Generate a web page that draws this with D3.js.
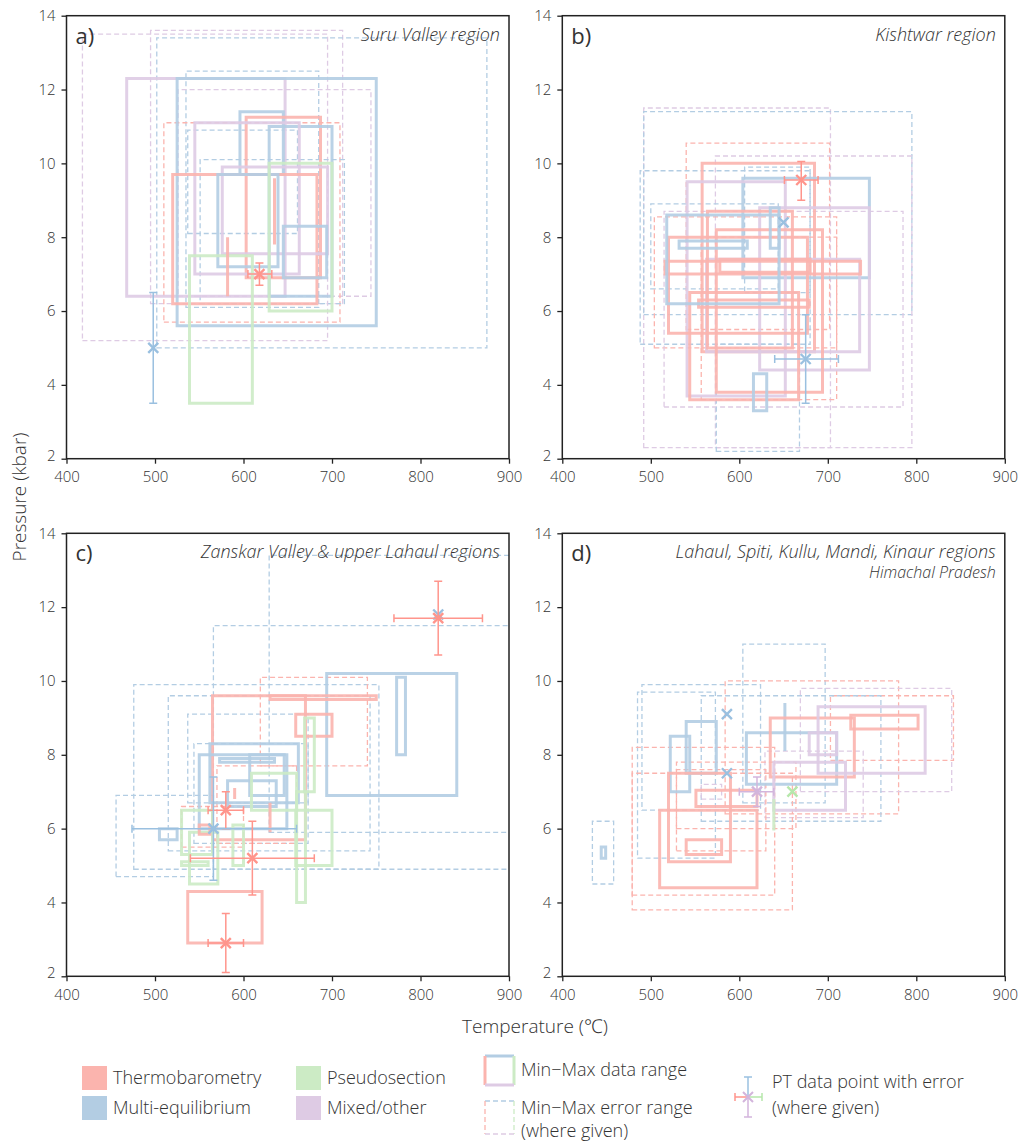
<!DOCTYPE html>
<html>
<head>
<meta charset="utf-8">
<script src="https://cdn.jsdelivr.net/npm/d3@7"></script>
<style>
  body { margin: 0; background: #fff; }
  text { font-family: "Open Sans", "Noto Sans", sans-serif; font-weight: 300; fill: #333; }
</style>
</head>
<body>
<script>
// method codes: T = thermobarometry, E = multi-equilibrium, P = pseudosection, X = mixed/other
const methodKeys = ["T", "E", "P", "X"];
const methodNames = ["Thermobarometry", "Multi-equilibrium", "Pseudosection", "Mixed/other"];
const tempTicks = [400, 500, 600, 700, 800, 900];
const presTicks = [2, 4, 6, 8, 10, 12, 14];
const panelLetters = ["a)", "b)", "c)", "d)"];
const panelTitles = [
  "Suru Valley region",
  "Kishtwar region",
  "Zanskar Valley & upper Lahaul regions",
  "Lahaul, Spiti, Kullu, Mandi, Kinaur regions",
];
const panelSubtitles = ["", "", "", "Himachal Pradesh"];

// min-max data ranges: [method, Tmin, Tmax, Pmin, Pmax]
const rangesA = [
  ["X", 468, 647, 6.4, 12.3], ["E", 525, 750, 5.6, 12.3], ["E", 596, 645, 9.7, 11.4],
  ["T", 603, 687, 6.9, 11.25], ["E", 629, 700, 6.4, 11.0], ["X", 545, 663, 7.0, 11.1],
  ["T", 520, 683, 6.2, 9.7], ["X", 576, 695, 7.55, 9.9], ["E", 571, 639, 7.2, 9.7],
  ["P", 629, 700, 6.0, 10.0], ["P", 539, 610, 3.5, 7.5], ["E", 645, 694, 6.9, 8.3],
  ["T", 582, 582, 6.4, 8.0], ["T", 635, 635, 7.8, 9.6],
];
const rangesB = [
  ["T", 558, 685, 4.9, 10.0], ["E", 604, 747, 6.9, 9.6], ["X", 541, 652, 3.7, 9.5],
  ["X", 623, 747, 4.4, 8.8], ["X", 563, 736, 4.9, 7.4], ["T", 564, 660, 5.0, 8.7],
  ["T", 574, 694, 3.8, 8.2], ["T", 544, 667, 3.6, 6.5], ["T", 520, 677, 5.4, 8.0],
  ["T", 516, 737, 7.0, 7.35], ["T", 578, 680, 7.05, 7.4], ["T", 554, 679, 6.1, 6.3],
  ["E", 518, 645, 6.2, 8.6], ["E", 532, 609, 7.7, 7.9], ["E", 635, 645, 7.7, 8.8],
  ["E", 616, 631, 3.3, 4.3],
];
const rangesC = [
  ["E", 694, 841, 6.9, 10.2], ["E", 773, 783, 8.0, 10.1], ["T", 565, 670, 5.7, 9.6],
  ["T", 630, 750, 9.5, 9.6], ["T", 659, 700, 8.5, 9.1], ["P", 669, 680, 7.0, 9.0],
  ["E", 562, 662, 6.7, 8.3], ["E", 550, 649, 6.0, 8.0], ["E", 573, 635, 7.8, 7.9],
  ["E", 607, 646, 6.9, 8.0], ["E", 582, 637, 6.6, 7.3], ["P", 609, 660, 6.5, 7.5],
  ["P", 659, 700, 5.0, 6.5], ["P", 660, 670, 4.0, 7.0], ["P", 530, 565, 5.3, 6.5],
  ["P", 539, 571, 4.5, 5.9], ["P", 588, 600, 5.0, 6.1], ["P", 530, 560, 5.0, 5.1],
  ["T", 537, 621, 2.9, 4.3], ["T", 550, 562, 5.85, 6.1], ["T", 590, 590, 6.8, 7.1],
  ["T", 630, 630, 5.9, 6.7], ["E", 505, 525, 5.7, 6.0],
];
const rangesD = [
  ["E", 444, 449, 5.2, 5.5], ["E", 522, 544, 7.0, 8.5], ["E", 540, 574, 7.5, 8.9],
  ["E", 608, 710, 7.2, 8.6], ["E", 651.5, 651.5, 8.1, 9.4], ["T", 635, 730, 7.4, 9.0],
  ["T", 726, 802, 8.7, 9.07], ["X", 689, 810, 7.5, 9.3], ["X", 679, 710, 8.0, 8.6],
  ["X", 639, 720, 6.5, 7.8], ["T", 520, 590, 5.1, 7.5], ["T", 551, 620, 6.6, 7.04],
  ["T", 510, 620, 4.4, 6.5], ["T", 540, 580, 5.3, 5.7], ["P", 639, 639, 5.95, 6.8],
];

// min-max error ranges: [method, Tmin, Tmax, Pmin, Pmax]
const errorsA = [
  ["X", 418, 695, 5.2, 13.5], ["X", 495, 712, 6.2, 13.6], ["E", 502, 875, 5.0, 13.4],
  ["E", 535, 685, 6.1, 12.5], ["X", 526, 744, 6.4, 12.0], ["T", 510, 709, 5.7, 11.1],
  ["E", 537, 661, 8.1, 10.9], ["E", 551, 714, 6.2, 10.1],
];
const errorsB = [
  ["X", 492, 703, 2.3, 11.5], ["E", 492, 795, 5.9, 11.4], ["T", 540, 702, 5.5, 10.55],
  ["X", 573, 795, 2.3, 10.2], ["E", 488, 680, 5.1, 9.8], ["E", 606, 680, 6.5, 9.9],
  ["E", 500, 644, 6.6, 8.9], ["T", 504, 710, 5.0, 8.55], ["X", 515, 785, 3.4, 8.7],
  ["T", 557, 710, 3.6, 8.0], ["E", 574, 668, 2.2, 5.1],
];
const errorsC = [
  ["E", 629, 920, 5.9, 13.4], ["E", 566, 920, 4.9, 11.5], ["E", 476, 753, 4.9, 9.9],
  ["E", 515, 743, 5.4, 9.6], ["E", 537, 673, 6.7, 9.1], ["E", 544, 673, 5.6, 8.3],
  ["E", 456, 566, 4.7, 6.9], ["T", 619, 740, 7.7, 10.1], ["T", 570, 660, 5.6, 7.7],
  ["T", 530, 600, 5.5, 6.6],
];
const errorsD = [
  ["E", 604, 697, 6.7, 11.0], ["T", 584, 780, 6.4, 10.0], ["X", 669, 840, 7.0, 9.8],
  ["T", 703, 842, 7.85, 9.6], ["E", 490, 624, 6.5, 9.9], ["E", 485, 573, 5.2, 9.7],
  ["E", 557, 760, 6.2, 9.6], ["X", 629, 740, 6.3, 8.1], ["T", 479, 640, 4.2, 8.2],
  ["T", 479, 660, 3.8, 7.5], ["T", 529, 664, 6.0, 7.8], ["T", 529, 630, 5.4, 7.6],
  ["E", 434, 458, 4.5, 6.2], ["X", 557, 580, 6.8, 7.2],
];

// PT points: [method, T, P, Tlo, Thi, Plo, Phi]
const pointsA = [
  ["E", 498, 5.0, null, null, 3.5, 6.5],
  ["T", 618, 7.0, 605, 632, 6.7, 7.3],
];
const pointsB = [
  ["T", 670, 9.55, 651, 689, 9.0, 10.05],
  ["E", 650, 8.4, null, null, null, null],
  ["E", 675, 4.7, 640, 712, 3.5, 5.9],
];
const pointsC = [
  ["E", 820, 11.8, null, null, null, null],
  ["T", 820, 11.7, 770, 870, 10.7, 12.7],
  ["T", 580, 6.5, 560, 600, 6.0, 7.0],
  ["E", 566, 6.0, 474, 660, 4.6, 7.4],
  ["T", 610, 5.2, 540, 680, 4.2, 6.2],
  ["T", 580, 2.9, 560, 600, 2.1, 3.7],
];
const pointsD = [
  ["E", 586, 9.1, null, null, null, null],
  ["E", 586, 7.5, null, null, null, null],
  ["X", 620, 7.0, 600, 639, 6.6, 7.4],
  ["P", 660, 7.0, null, null, null, null],
];

let allRanges = [rangesA, rangesB, rangesC, rangesD];
let allErrors = [errorsA, errorsB, errorsC, errorsD];
let allPoints = [pointsA, pointsB, pointsC, pointsD];

let width = 1024;
let height = 1142;
let pw = 442.5;
let ph = 443;
let origins = [[66.5, 15.7], [562.3, 15.7], [66.5, 533.3], [562.3, 533.3]];

let svg = d3.select("body").append("svg").attr("width", width).attr("height", height);

let x = d3.scaleLinear().domain([400, 900]).range([0, pw]);
let y = d3.scaleLinear().domain([2, 14]).range([ph, 0]);
let color = d3.scaleOrdinal().domain(methodKeys).range(d3.schemePastel1.slice(0, 4));

// slightly stronger tone for point markers
let pointColor = (k) => {
  let c = d3.hsl(color(k));
  c.s = Math.min(1, c.s * 1.15);
  c.l = c.l * 0.93;
  return c.formatHex();
};

let boxPath = (d) =>
  `M${x(d[1])},${y(d[3])}H${x(d[2])}V${y(d[4])}H${x(d[1])}Z`;

let defs = svg.append("defs");

origins.forEach((o, i) => {
  defs.append("clipPath").attr("id", "clip" + i)
    .append("rect").attr("width", pw).attr("height", ph);

  let g = svg.append("g").attr("transform", `translate(${o[0]},${o[1]})`);
  let plot = g.append("g").attr("clip-path", `url(#clip${i})`);

  // error ranges (dashed)
  plot.selectAll("path.err")
    .data(allErrors[i])
    .join("path")
    .attr("class", "err")
    .attr("d", boxPath)
    .attr("fill", "none")
    .attr("stroke", (d) => color(d[0]))
    .attr("stroke-width", 1.3)
    .attr("stroke-dasharray", "5,3");

  // data ranges (solid)
  plot.selectAll("path.range")
    .data(allRanges[i])
    .join("path")
    .attr("class", "range")
    .attr("d", boxPath)
    .attr("fill", "none")
    .attr("stroke", (d) => color(d[0]))
    .attr("stroke-width", 3)
    .attr("stroke-opacity", 0.9);

  // PT points with error bars
  let pts = plot.selectAll("g.pt")
    .data(allPoints[i])
    .join("g")
    .attr("class", "pt")
    .attr("stroke", (d) => pointColor(d[0]))
    .attr("fill", "none");

  pts.each(function (d) {
    let p = d3.select(this);
    let cx = x(d[1]), cy = y(d[2]);
    if (d[3] != null) {
      p.append("line").attr("x1", x(d[3])).attr("x2", x(d[4])).attr("y1", cy).attr("y2", cy).attr("stroke-width", 1.5);
      [d[3], d[4]].forEach((t) =>
        p.append("line").attr("x1", x(t)).attr("x2", x(t)).attr("y1", cy - 4).attr("y2", cy + 4).attr("stroke-width", 1.5));
    }
    if (d[5] != null) {
      p.append("line").attr("x1", cx).attr("x2", cx).attr("y1", y(d[5])).attr("y2", y(d[6])).attr("stroke-width", 1.5);
      [d[5], d[6]].forEach((v) =>
        p.append("line").attr("x1", cx - 4).attr("x2", cx + 4).attr("y1", y(v)).attr("y2", y(v)).attr("stroke-width", 1.5));
    }
    p.append("path")
      .attr("d", `M${cx - 5},${cy - 5}L${cx + 5},${cy + 5}M${cx - 5},${cy + 5}L${cx + 5},${cy - 5}`)
      .attr("stroke-width", 2.4);
  });

  // axes
  let xAxis = g.append("g")
    .attr("transform", `translate(0,${ph})`)
    .call(d3.axisBottom(x).tickValues(tempTicks).tickSize(5).tickSizeOuter(0).tickPadding(8));
  let yAxis = g.append("g")
    .call(d3.axisLeft(y).tickValues(presTicks).tickSize(5).tickSizeOuter(0).tickPadding(6));
  [xAxis, yAxis].forEach((a) => {
    a.select(".domain").remove();
    a.selectAll("line").attr("stroke", "#222").attr("stroke-width", 1.3);
    a.selectAll("text").attr("font-size", 15).attr("fill", "#333")
      .style("font-family", '"Open Sans", "Noto Sans", sans-serif')
      .style("font-weight", 300);
  });
  // lift the lowest pressure label a touch so it clears the corner temperature label
  yAxis.selectAll(".tick").filter((d) => d === 2).select("text").attr("dy", "0.1em");

  g.append("rect")
    .attr("width", pw)
    .attr("height", ph)
    .attr("fill", "none")
    .attr("stroke", "#222")
    .attr("stroke-width", 1.5);

  g.append("text")
    .attr("x", 9)
    .attr("y", 28)
    .attr("font-size", 22)
    .style("font-weight", 400)
    .text(panelLetters[i]);

  g.append("text")
    .attr("x", pw - 9)
    .attr("y", 25)
    .attr("text-anchor", "end")
    .attr("font-size", 18)
    .attr("font-style", "italic")
    .text(panelTitles[i]);

  if (panelSubtitles[i]) {
    g.append("text")
      .attr("x", pw - 9)
      .attr("y", 45)
      .attr("text-anchor", "end")
      .attr("font-size", 16)
      .attr("font-style", "italic")
      .text(panelSubtitles[i]);
  }
});

// axis titles
svg.append("text")
  .attr("transform", "translate(26,497) rotate(-90)")
  .attr("text-anchor", "middle")
  .attr("font-size", 19)
  .text("Pressure (kbar)");

svg.append("text")
  .attr("x", 535)
  .attr("y", 1033)
  .attr("text-anchor", "middle")
  .attr("font-size", 19)
  .text("Temperature (℃)");

// legend
let legend = svg.append("g").attr("id", "legend");

legend.selectAll("rect.sw")
  .data(methodKeys)
  .join("rect")
  .attr("class", "sw")
  .attr("x", (d, i) => (i < 2 ? 82 : 296))
  .attr("y", (d, i) => (i % 2 === 0 ? 1066 : 1096))
  .attr("width", 25)
  .attr("height", 24)
  .attr("fill", (d) => color(d));

legend.selectAll("text.sw")
  .data(methodNames)
  .join("text")
  .attr("class", "sw")
  .attr("x", (d, i) => (i < 2 ? 113 : 327))
  .attr("y", (d, i) => (i % 2 === 0 ? 1078 : 1108))
  .attr("dy", "0.35em")
  .attr("font-size", 18)
  .text((d) => d);

// box icons: top = multi-eq, left = thermo, right = pseudo, bottom = mixed
function boxIcon(x0, y0, x1, y1, sw, dash) {
  let sides = [
    ["E", x0, y0, x1, y0],
    ["T", x0, y0, x0, y1],
    ["P", x1, y0, x1, y1],
    ["X", x0, y1, x1, y1],
  ];
  sides.forEach((s) => {
    legend.append("line")
      .attr("x1", s[1]).attr("y1", s[2]).attr("x2", s[3]).attr("y2", s[4])
      .attr("stroke", color(s[0]))
      .attr("stroke-width", sw)
      .attr("stroke-dasharray", dash);
  });
}
boxIcon(485, 1056, 514, 1085, 3, null);
boxIcon(485, 1101, 514, 1134, 1.3, "5,3");

legend.append("text").attr("x", 521).attr("y", 1070).attr("dy", "0.35em").attr("font-size", 18).text("Min−Max data range");
legend.append("text").attr("x", 521).attr("y", 1108).attr("dy", "0.35em").attr("font-size", 18).text("Min−Max error range");
legend.append("text").attr("x", 521).attr("y", 1131).attr("dy", "0.35em").attr("font-size", 18).text("(where given)");

// PT point icon
let pc = [748, 1097];
let arms = [
  ["T", -13, 0], ["P", 14, 0], ["E", 0, -20], ["X", 0, 20],
];
arms.forEach((a) => {
  let ex = pc[0] + a[1], ey = pc[1] + a[2];
  let c = pointColor(a[0]);
  legend.append("line").attr("x1", pc[0]).attr("y1", pc[1]).attr("x2", ex).attr("y2", ey)
    .attr("stroke", c).attr("stroke-width", 1.5);
  if (a[2] === 0) {
    legend.append("line").attr("x1", ex).attr("x2", ex).attr("y1", ey - 4).attr("y2", ey + 4).attr("stroke", c).attr("stroke-width", 1.5);
  } else {
    legend.append("line").attr("x1", ex - 4).attr("x2", ex + 4).attr("y1", ey).attr("y2", ey).attr("stroke", c).attr("stroke-width", 1.5);
  }
});
legend.append("path")
  .attr("d", `M${pc[0] - 5},${pc[1] - 5}L${pc[0] + 5},${pc[1] + 5}M${pc[0] - 5},${pc[1] + 5}L${pc[0] + 5},${pc[1] - 5}`)
  .attr("stroke", pointColor("X"))
  .attr("stroke-width", 2);

legend.append("text").attr("x", 772).attr("y", 1082).attr("dy", "0.35em").attr("font-size", 18).text("PT data point with error");
legend.append("text").attr("x", 772).attr("y", 1108).attr("dy", "0.35em").attr("font-size", 18).text("(where given)");
</script>
</body>
</html>
